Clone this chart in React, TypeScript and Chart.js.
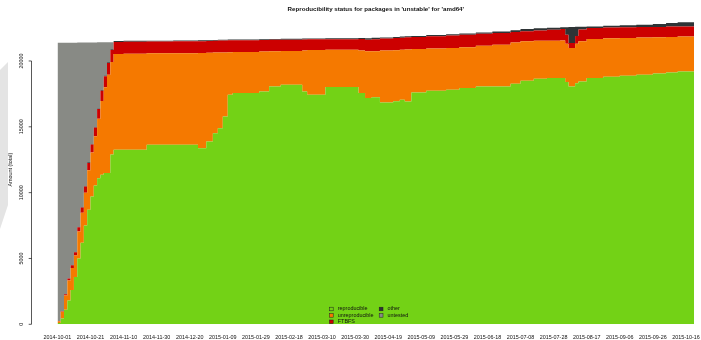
import React, { useEffect, useRef } from 'react';
import { Chart, registerables } from 'chart.js';

Chart.register(...registerables);

const TITLE = "Reproducibility status for packages in 'unstable' for 'amd64'";
const Y_TITLE = 'Amount (total)';

// x tick labels: one every 20 days starting at 2014-10-01 (day 0)
const X_TICK_LABELS = [
  '2014-10-01', '2014-10-21', '2014-11-10', '2014-11-30', '2014-12-20',
  '2015-01-09', '2015-01-29', '2015-02-18', '2015-03-10', '2015-03-30',
  '2015-04-19', '2015-05-09', '2015-05-29', '2015-06-18', '2015-07-08',
  '2015-07-28', '2015-08-17', '2015-09-06', '2015-09-26', '2015-10-16',
];
const X_TICK_STEP_DAYS = 20;
const Y_TICKS = [0, 5000, 10000, 15000, 20000];

const SERIES_NAMES = ['reproducible', 'unreproducible', 'FTBFS', 'other', 'untested'];
const SERIES_COLORS = ['#73d216', '#f57900', '#cc0000', '#2e3436', '#888a85'];

// sample days (days since 2014-10-01); each value holds until the next day listed
const DAYS = [
  0, 2, 4, 6, 8, 10, 12, 14, 16, 18, 20, 22, 24, 26, 28, 30, 32,
  34, 40, 54, 70, 85, 90, 94, 97, 100, 103, 106, 122, 128, 135, 148,
  151, 162, 182, 186, 190, 195, 203, 207, 210, 214, 223, 235, 243, 253, 263,
  274, 280, 288, 296, 304, 307, 309, 313, 315, 320, 330, 340, 350, 360, 368,
  375, 385,
];

const REPRODUCIBLE = [
  100, 450, 1100, 1800, 2600, 3600, 5000, 6200, 7500, 8700, 9700, 10550, 11100, 11350, 11500, 11500, 12900,
  13250, 13250, 13630, 13630, 13380, 13880, 14520, 14900, 15790, 17440, 17570, 17690, 18070, 18200, 17690,
  17440, 18020, 17570, 17190, 17250, 16850, 16950, 17060, 16930, 17610, 17740, 17820, 17950, 18070, 18070,
  18270, 18500, 18650, 18710, 18710, 18400, 18070, 18300, 18450, 18710, 18800, 18880, 18960, 19040, 19120,
  19210, 19210,
];

const UNREPRODUCIBLE = [
  140, 505, 1090, 1535, 1680, 1625, 2040, 2265, 2490, 3005, 3340, 3730, 4515, 5605, 6500, 7460, 7030,
  7280, 7300, 6950, 6960, 7220, 6740, 6120, 5750, 4860, 3230, 3110, 3030, 2660, 2550, 3110,
  3390, 2840, 3230, 3540, 3490, 3950, 3870, 3800, 3950, 3300, 3210, 3170, 3100, 3080, 3170,
  3130, 3000, 2880, 2830, 2840, 2900, 2920, 3000, 3050, 2960, 2920, 2870, 2820, 2760, 2710,
  2640, 2640,
];

const FTBFS = [
  10, 40, 100, 150, 200, 250, 330, 400, 470, 550, 610, 670, 730, 790, 840, 880, 910,
  920, 920, 900, 900, 900, 900, 900, 900, 910, 900, 900, 880, 880, 870, 840,
  820, 800, 870, 890, 910, 900, 920, 910, 920, 920, 920, 940, 940, 910, 890,
  800, 750, 790, 840, 880, 700, 380, 600, 900, 840, 820, 810, 800, 790, 780,
  770, 770,
];

const OTHER = [
  0, 5, 10, 15, 20, 25, 30, 35, 40, 45, 50, 50, 55, 55, 60, 60, 60,
  60, 60, 60, 70, 70, 60, 60, 60, 60, 60, 60, 60, 60, 60, 60,
  60, 60, 80, 110, 110, 90, 90, 80, 70, 70, 100, 100, 90, 100, 100,
  140, 180, 160, 140, 130, 570, 1220, 700, 200, 110, 140, 160, 180, 210, 270,
  320, 320,
];

const UNTESTED = [
  21130, 20380, 19080, 17880, 16880, 15880, 14000, 12500, 10900, 9100, 7700, 6400, 5030, 3630, 2530, 1530, 530,
  0, 0, 0, 0, 0, 0, 0, 0, 0, 0, 0, 0, 0, 0, 0,
  0, 0, 0, 0, 0, 0, 0, 0, 0, 0, 0, 0, 0, 0, 0,
  0, 0, 0, 0, 0, 0, 0, 0, 0, 0, 0, 0, 0, 0, 0,
  0, 0,
];

const SERIES_VALUES = [REPRODUCIBLE, UNREPRODUCIBLE, FTBFS, OTHER, UNTESTED];

const FONT = '"Liberation Sans", Arial, Helvetica, sans-serif';

const decorPlugin = {
  id: 'rDecor',
  beforeDraw(chart: any) {
    const ctx = chart.ctx;
    ctx.save();
    ctx.fillStyle = '#e4e4e4';
    ctx.beginPath();
    ctx.moveTo(0, 70);
    ctx.lineTo(8, 62);
    ctx.lineTo(8, 205);
    ctx.lineTo(0, 229);
    ctx.closePath();
    ctx.fill();
    ctx.restore();
  },
  afterDraw(chart: any) {
    const ctx = chart.ctx;
    const y = chart.scales.y;
    const area = chart.chartArea;
    ctx.save();
    // y axis (R style)
    const axisX = 31.5;
    ctx.strokeStyle = '#111';
    ctx.lineWidth = 0.7;
    ctx.beginPath();
    ctx.moveTo(axisX, y.getPixelForValue(Y_TICKS[0]));
    ctx.lineTo(axisX, y.getPixelForValue(Y_TICKS[Y_TICKS.length - 1]));
    Y_TICKS.forEach((v) => {
      const py = y.getPixelForValue(v);
      ctx.moveTo(axisX - 2.8, py);
      ctx.lineTo(axisX, py);
    });
    ctx.stroke();
    ctx.fillStyle = '#111';
    ctx.font = `5.4px ${FONT}`;
    ctx.textAlign = 'center';
    ctx.textBaseline = 'middle';
    Y_TICKS.forEach((v) => {
      const py = y.getPixelForValue(v);
      ctx.save();
      ctx.translate(22, py);
      ctx.rotate(-Math.PI / 2);
      ctx.fillText(String(v), 0, 0);
      ctx.restore();
    });
    ctx.save();
    ctx.translate(10.8, (area.top + area.bottom) / 2);
    ctx.rotate(-Math.PI / 2);
    ctx.fillText(Y_TITLE, 0, 0);
    ctx.restore();

    // legend (two columns, inside plot, bottom)
    const rows = [[0, 1, 2], [3, 4]];
    const colX = [area.left + 272, area.left + 321.8];
    const rowY = [309, 315.4, 321.8];
    ctx.font = `5.4px ${FONT}`;
    ctx.textAlign = 'left';
    ctx.lineWidth = 0.5;
    rows.forEach((col, ci) => {
      col.forEach((si, ri) => {
        const sx = colX[ci];
        const sy = rowY[ri];
        ctx.fillStyle = SERIES_COLORS[si];
        ctx.fillRect(sx, sy - 1.8, 3.8, 3.6);
        ctx.strokeStyle = '#222';
        ctx.strokeRect(sx, sy - 1.8, 3.8, 3.6);
        ctx.fillStyle = '#111';
        ctx.fillText(SERIES_NAMES[si], sx + 8.4, sy);
      });
    });
    ctx.restore();
  },
};

export default function App() {
  const ref = useRef<HTMLCanvasElement | null>(null);

  useEffect(() => {
    if (!ref.current) return;
    const datasets = SERIES_VALUES.map((vals, i) => ({
      label: SERIES_NAMES[i],
      data: DAYS.map((d, k) => ({ x: d, y: vals[k] })),
      backgroundColor: SERIES_COLORS[i],
      borderColor: 'rgba(0,0,0,0)',
      borderWidth: 0,
      pointRadius: 0,
      pointHitRadius: 0,
      stepped: true,
      fill: i === 0 ? 'origin' : '-1',
    }));
    const chart = new Chart(ref.current, {
      type: 'line',
      data: { datasets },
      options: {
        animation: false,
        responsive: false,
        devicePixelRatio: 1,
        events: [],
        layout: { padding: { left: 57.4, right: 6.8, top: 0, bottom: 0 } },
        plugins: {
          legend: { display: false },
          tooltip: { enabled: false },
          title: {
            display: true,
            text: TITLE,
            fullSize: false,
            color: '#111',
            font: { family: FONT, size: 6.2, weight: 'bold', lineHeight: 1.2 },
            padding: { top: 5.4, bottom: 2.06 },
          },
        },
        scales: {
          x: {
            type: 'linear',
            min: DAYS[0],
            max: DAYS[DAYS.length - 1],
            grid: { display: false, drawTicks: false },
            border: { display: false },
            afterFit: (s: any) => {
              s.height = 15.7;
              s.paddingLeft = 0;
              s.paddingRight = 0;
            },
            afterBuildTicks: (s: any) => {
              s.ticks = X_TICK_LABELS.map((_, i) => ({ value: i * X_TICK_STEP_DAYS }));
            },
            ticks: {
              autoSkip: false,
              maxRotation: 0,
              minRotation: 0,
              padding: 9.5,
              color: '#111',
              font: { family: FONT, size: 5.4 },
              callback: (v: any) => X_TICK_LABELS[Math.round(Number(v) / X_TICK_STEP_DAYS)] ?? '',
            },
          },
          y: {
            type: 'linear',
            stacked: true,
            min: 0,
            max: 23500,
            display: false,
          },
        },
      },
      plugins: [decorPlugin],
    } as any);
    return () => chart.destroy();
  }, []);

  return (
    <div style={{ position: 'fixed', left: 0, top: 0, width: 701, height: 340, background: '#fff' }}>
      <canvas ref={ref} width={701} height={340} style={{ display: 'block', width: 701, height: 340 }} />
    </div>
  );
}
